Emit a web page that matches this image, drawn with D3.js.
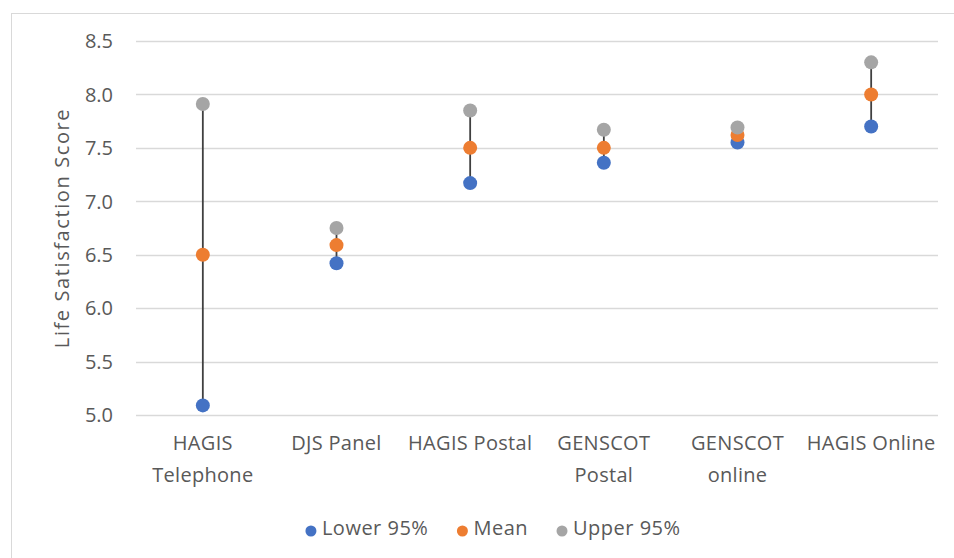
<!DOCTYPE html>
<html>
<head>
<meta charset="utf-8">
<script src="https://cdn.jsdelivr.net/npm/d3@7"></script>
<style>
  html, body { margin: 0; padding: 0; background: #fff; }
  svg text { font-family: "Open Sans", "Liberation Sans", sans-serif; fill: #595959; }
</style>
</head>
<body>
<svg id="chart" width="954" height="558"></svg>
<script>
const categories = ["HAGIS Telephone", "DJS Panel", "HAGIS Postal", "GENSCOT Postal", "GENSCOT online", "HAGIS Online"];
const categoryLines = [["HAGIS", "Telephone"], ["DJS Panel"], ["HAGIS Postal"], ["GENSCOT", "Postal"], ["GENSCOT", "online"], ["HAGIS Online"]];
const lower95 = [5.09, 6.42, 7.17, 7.36, 7.55, 7.70];
const mean = [6.50, 6.59, 7.50, 7.50, 7.62, 8.00];
const upper95 = [7.91, 6.75, 7.85, 7.67, 7.69, 8.30];
const yTicks = [5.0, 5.5, 6.0, 6.5, 7.0, 7.5, 8.0, 8.5];
const seriesNames = ["Lower 95%", "Mean", "Upper 95%"];
const seriesColors = ["#4472C4", "#ED7D31", "#A5A5A5"];

const svg = d3.select("#chart");
const W = 954, H = 558;
const plot = { left: 136, right: 938, top: 41, bottom: 415 };

// chart frame
svg.append("rect").attr("x", 11.5).attr("y", 13.5).attr("width", W).attr("height", H)
  .attr("fill", "none").attr("stroke", "#d9d9d9").attr("stroke-width", 1);

const x = d3.scaleBand().domain(categories).range([plot.left, plot.right]).padding(0);
const y = d3.scaleLinear().domain([5, 8.5]).range([plot.bottom, plot.top]);

// gridlines
const grid = svg.append("g");
grid.selectAll("line").data(yTicks).join("line")
  .attr("x1", plot.left).attr("x2", plot.right)
  .attr("y1", d => Math.round(y(d)) + 0.5).attr("y2", d => Math.round(y(d)) + 0.5)
  .attr("stroke", "#d9d9d9").attr("stroke-width", 1.3);

// y axis labels
const yAxis = d3.axisLeft(y).tickValues(yTicks).tickFormat(d3.format(".1f")).tickSize(0).tickPadding(0);
const yg = svg.append("g").attr("transform", `translate(${plot.left - 23},0)`).call(yAxis);
yg.select(".domain").remove();
yg.selectAll("text").attr("font-size", 20).attr("fill", "#595959")
  .style("font-family", "'Open Sans', sans-serif").attr("dy", "0.34em");

// y axis title
svg.append("text")
  .attr("transform", `translate(69,${(plot.top + plot.bottom) / 2}) rotate(-90)`)
  .attr("text-anchor", "middle").attr("font-size", 20).attr("letter-spacing", 1.6)
  .text("Life Satisfaction Score");

// x category labels
const xg = svg.append("g");
categories.forEach((c, i) => {
  const t = xg.append("text")
    .attr("x", x(c) + x.bandwidth() / 2).attr("y", 450)
    .attr("text-anchor", "middle").attr("font-size", 20).attr("letter-spacing", 0.3);
  categoryLines[i].forEach((ln, j) => {
    t.append("tspan").attr("x", x(c) + x.bandwidth() / 2).attr("dy", j === 0 ? 0 : 32).text(ln);
  });
});

// high-low lines
const cx = c => x(c) + x.bandwidth() / 2;
svg.append("g").selectAll("line").data(categories).join("line")
  .attr("x1", d => cx(d)).attr("x2", d => cx(d))
  .attr("y1", (d, i) => y(lower95[i])).attr("y2", (d, i) => y(upper95[i]))
  .attr("stroke", "#404040").attr("stroke-width", 1.8);

// points
const series = [lower95, mean, upper95];
series.forEach((vals, si) => {
  svg.append("g").selectAll("circle").data(categories).join("circle")
    .attr("cx", d => cx(d)).attr("cy", (d, i) => y(vals[i]))
    .attr("r", 7).attr("fill", seriesColors[si]);
});

// legend
const legend = svg.append("g");
const legendY = 528;
let cursor = 0;
seriesNames.forEach((name, i) => {
  const g = legend.append("g").attr("transform", `translate(${cursor},0)`);
  g.append("circle").attr("cx", 0).attr("cy", legendY + 3).attr("r", 5.5).attr("fill", seriesColors[i]);
  const t = g.append("text").attr("x", 11).attr("y", legendY).attr("dy", "0.34em")
    .attr("font-size", 20).attr("letter-spacing", 0.5).text(name);
  const w = 11 + t.node().getComputedTextLength();
  cursor += w + 34;
});
const span = cursor - 34 + 5.5;
legend.attr("transform", `translate(${493 - span / 2 + 5.5},0)`);
</script>
</body>
</html>
